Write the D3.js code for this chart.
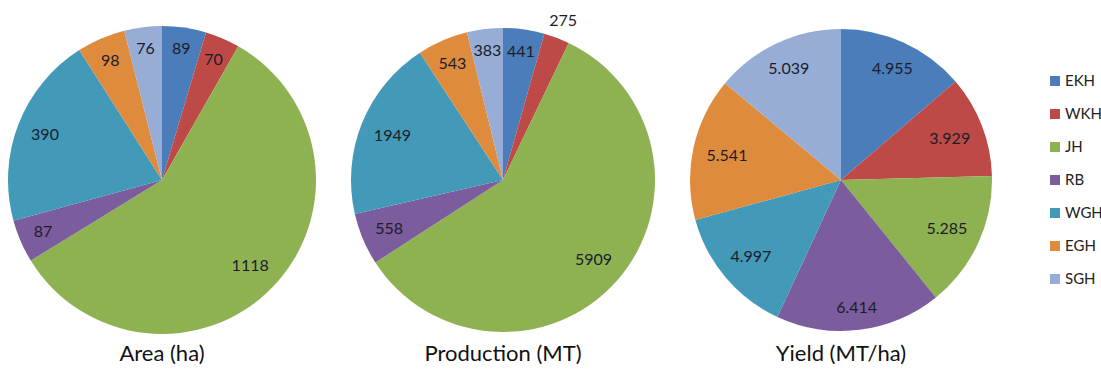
<!DOCTYPE html>
<html>
  <head>
    <meta charset="UTF-8" />
    <title></title>
    <style>
      body { margin: 0; background: #fff; }
      text { font-family: Lato, "Open Sans", sans-serif; }
    </style>
    <script src="https://d3js.org/d3.v7.min.js"></script>
  </head>
  <body>
    <main id="viz"></main>
    <script>
      const regions = ['EKH', 'WKH', 'JH', 'RB', 'WGH', 'EGH', 'SGH'];
      const colors = ['#4a7dba', '#bd4a47', '#8eb152', '#7b5c9c', '#4399b8', '#df8b3e', '#97add5'];
      const areaValues = [89, 70, 1118, 87, 390, 98, 76];
      const productionValues = [441, 275, 5909, 558, 1949, 543, 383];
      const yieldValues = [4.955, 3.929, 5.285, 6.414, 4.997, 5.541, 5.039];
      const titles = ['Area (ha)', 'Production (MT)', 'Yield (MT/ha)'];

      const width = 1101, height = 369;
      const svg = d3.select('#viz').append('svg')
        .attr('width', width).attr('height', height);

      const color = d3.scaleOrdinal().domain(regions).range(colors);

      const charts = [
        { values: areaValues, cx: 162, r: 154, fmt: d3.format('d'), outside: [] },
        { values: productionValues, cx: 503, r: 152, fmt: d3.format('d'), outside: ['WKH'] },
        { values: yieldValues, cx: 841, r: 151, fmt: d3.format('.3f'), outside: [] },
      ];
      const cy = 180;

      const pie = d3.pie().sort(null).value((d) => d.v);

      charts.forEach((c, i) => {
        const g = svg.append('g').attr('transform', `translate(${c.cx},${cy})`);
        const arcs = pie(regions.map((k, j) => ({ k, v: c.values[j] })));
        const arc = d3.arc().innerRadius(0).outerRadius(c.r);
        g.selectAll('path')
          .data(arcs)
          .join('path')
          .attr('d', arc)
          .attr('fill', (d) => color(d.data.k));

        // labels: keep outer edge of the text box near the rim (like excel best fit)
        g.selectAll('text.lbl')
          .data(arcs)
          .join('text')
          .attr('class', 'lbl')
          .attr('text-anchor', 'middle')
          .attr('dy', '0.35em')
          .attr('font-size', 16)
          .attr('fill', '#1c1c2a')
          .text((d) => c.fmt(d.data.v))
          .attr('transform', function (d) {
            const a = (d.startAngle + d.endAngle) / 2;
            const sx = Math.sin(a), sy = -Math.cos(a);
            const bb = this.getBBox();
            let rr;
            if (c.outside.includes(d.data.k)) {
              rr = c.r * 1.12;
            } else {
              rr = c.r * 0.915 - (Math.abs(sx) * bb.width / 2 + Math.abs(sy) * 7);
            }
            return `translate(${sx * rr},${sy * rr})`;
          });

        svg.append('text')
          .attr('x', c.cx)
          .attr('y', 361)
          .attr('text-anchor', 'middle')
          .attr('font-size', 22)
          .attr('fill', '#111')
          .text(titles[i]);
      });

      const legend = svg.append('g').attr('transform', 'translate(1050,76)');
      const item = legend.selectAll('g')
        .data(regions)
        .join('g')
        .attr('transform', (d, i) => `translate(0,${i * 33})`);
      item.append('rect')
        .attr('width', 10).attr('height', 10)
        .attr('fill', (d) => color(d));
      item.append('text')
        .attr('x', 15).attr('y', 5).attr('dy', '0.35em')
        .attr('font-size', 15)
        .attr('fill', '#222')
        .text((d) => d);
    </script>
  </body>
</html>
